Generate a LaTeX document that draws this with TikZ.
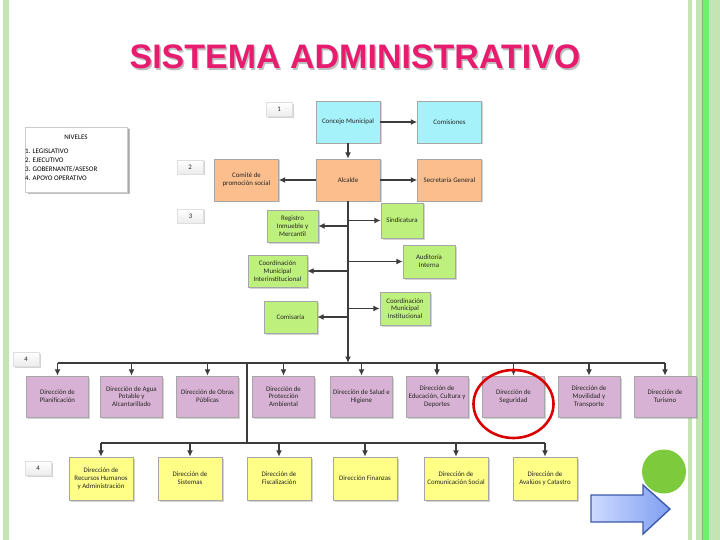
\documentclass[tikz,border=0pt]{standalone}
\usepackage{fontspec}
\setmainfont{Carlito}
\newfontfamily\titlefont{Liberation Sans}
\usepackage{xcolor}
\usetikzlibrary{arrows.meta, shadows}
\definecolor{cyanfill}{RGB}{166,242,250}
\definecolor{orangefill}{RGB}{251,190,140}
\definecolor{greenfill}{RGB}{190,240,125}
\definecolor{purplefill}{RGB}{216,178,212}
\definecolor{yellowfill}{RGB}{255,255,136}
\definecolor{framegreen}{RGB}{196,228,180}
\definecolor{titlepink}{RGB}{232,28,110}
\definecolor{linegray}{RGB}{60,60,60}
\definecolor{dotgreen}{RGB}{125,203,60}
\definecolor{navlight}{RGB}{205,218,255}
\definecolor{navblue}{RGB}{128,158,242}
\definecolor{navedge}{RGB}{60,90,170}
\begin{document}
\begin{tikzpicture}[x=1pt, y=-1pt,
        box/.style={rectangle, draw=gray!70, line width=0.4pt, inner sep=1pt, align=center,
            font=\fontsize{6.9}{7.8}\selectfont, text=black!85,
            drop shadow={shadow xshift=1.5pt, shadow yshift=-1.5pt, opacity=.35}},
        top/.style={box, fill=cyanfill, minimum width=64, minimum height=42},
        exe/.style={box, fill=orangefill, minimum width=64, minimum height=42},
        aux/.style={box, fill=greenfill, minimum width=52, minimum height=33},
        oper/.style={box, fill=purplefill, minimum width=62, minimum height=41},
        supp/.style={box, fill=yellowfill, minimum width=64, minimum height=43},
        lvl/.style={box, draw=gray!25, top color=white, bottom color=gray!15, minimum width=26, minimum height=14},
        arrow/.style={-{Latex[length=6.5pt, width=6pt]}, draw=linegray, line width=1.3pt},
        link/.style={draw=linegray, line width=1.3pt}
    ]
        \useasboundingbox (0,0) rectangle (720,540);
        % frame
        \fill[framegreen] (3,0) rectangle (9,540);
        \fill[framegreen] (688,0) rectangle (692,540);
        \fill[framegreen] (696,0) rectangle (720,540);
        \fill[green!40!framegreen] (703,0) rectangle (709,540);
        \draw[green!40!black!50, line width=0.8pt] (702,0) -- (702,540);

        % title
        \node[font=\titlefont\bfseries\fontsize{34}{36}\selectfont, text=gray!50] at (356.5,58.5) {SISTEMA ADMINISTRATIVO};
        \node[font=\titlefont\bfseries\fontsize{34}{36}\selectfont, text=titlepink] (title) at (355,57) {SISTEMA ADMINISTRATIVO};

        % levels legend
        \node[box, fill=white, minimum width=102, minimum height=65, draw=gray!40,
            drop shadow={shadow xshift=2.5pt, shadow yshift=-2.5pt, opacity=.5}] (niv) at (76,159.5) {};
        \node[font=\fontsize{7}{8}\selectfont] (nivt) at (76,137) {NIVELES};
        \node[font=\fontsize{7}{9}\selectfont, align=left, anchor=north west, inner sep=0pt] (nivl) at (25,149)
            {1. LEGISLATIVO\\2. EJECUTIVO\\3. GOBERNANTE/ASESOR\\4. APOYO OPERATIVO};

        % level marks
        \node[lvl] (l1) at (279,109.5) {1};
        \node[lvl] (l2) at (190,167) {2};
        \node[lvl] (l3) at (190.5,216) {3};
        \node[lvl] (l4) at (26,359) {4};
        \node[lvl] (l5) at (38,468.5) {4};

        % level 1 and 2
        \node[top] (cm) at (348,122) {Concejo Municipal};
        \node[top] (com) at (449.5,122) {Comisiones};
        \node[exe] (cps) at (246.5,180) {Comité de\\promoción social};
        \node[exe] (alc) at (348,180) {Alcalde};
        \node[exe] (sg) at (449.5,180) {Secretaría General};
        \draw[arrow] (cm) -- (com);
        \draw[arrow] (cm) -- (alc);
        \draw[arrow] (alc) -- (cps);
        \draw[arrow] (alc) -- (sg);

        % level 3
        \node[aux, minimum width=51, minimum height=32] (reg) at (292.5,226) {Registro\\Inmueble y\\Mercantil};
        \node[aux, minimum width=42, minimum height=35] (sin) at (402,220.5) {Sindicatura};
        \node[aux] (aud) at (429,261.5) {Auditoría\\Interna};
        \node[aux, minimum width=59, minimum height=32] (cmi) at (277.5,271) {Coordinación\\Municipal\\Interinstitucional};
        \node[aux, minimum width=53, minimum height=32] (cms) at (290.5,317) {Comisaría};
        \node[aux, minimum width=50] (cin) at (405,308.5) {Coordinación\\Municipal\\Institucional};
        \coordinate (bus) at (348,363);
        \draw[arrow] (alc) -- (bus);
        \foreach \n in {reg, cmi, cms} \draw[arrow] (alc.south |- \n.east) -- (\n.east);
        \foreach \n in {sin, aud, cin} \draw[arrow] (alc.south |- \n.west) -- (\n.west);

        % operative directions
        \foreach \x/\n/\t in {57.5/p1/{Dirección de\\Planificación},
                131.5/p2/{Dirección de Agua\\Potable y\\Alcantarillado},
                207.5/p3/{Dirección de Obras\\Públicas},
                283.5/p4/{Dirección de\\Protección\\Ambiental},
                361.5/p5/{Dirección de Salud e\\Higiene},
                437/p6/{Dirección de\\Educación, Cultura y\\Deportes},
                513.5/p7/{Dirección de\\Seguridad},
                589/p8/{Dirección de\\Movilidad y\\Transporte},
                665/p9/{Dirección de\\Turismo}}
            \node[oper] (\n) at (\x,396.5) {\t};
        \draw[link] (p1.north |- bus) -- (p9.north |- bus);
        \foreach \n in {p1,p2,p3,p4,p5,p6,p7,p8,p9}
            \draw[arrow] (\n.north |- bus) -- (\n.north);

        % support directions
        \coordinate (split) at (247,363);
        \coordinate (bus2) at (247,443);
        \draw[link] (split) -- (bus2);
        \foreach \x/\n/\t in {101/s1/{Dirección de\\Recursos Humanos\\y Administración},
                190/s2/{Dirección de\\Sistemas},
                279/s3/{Dirección de\\Fiscalización},
                365/s4/{Dirección Finanzas},
                456/s5/{Dirección de\\Comunicación Social},
                545/s6/{Dirección de\\Avalúos y Catastro}}
            \node[supp] (\n) at (\x,478.5) {\t};
        \draw[link] (s1.north |- bus2) -- (s6.north |- bus2);
        \foreach \n in {s1,s2,s3,s4,s5,s6}
            \draw[arrow] (\n.north |- bus2) -- (\n.north);

        % highlight
        \draw[red!85!black, line width=2.6pt] (p7.center) ++(0,7.5) ellipse [x radius=40, y radius=34];

        % navigation
        \fill[dotgreen] (664,471.5) circle (22);
        \shade[left color=navlight, right color=navblue, draw=navedge, line width=1.4pt]
            (591,495) -- (643,495) -- (643,485) -- (670,509) -- (643,534) -- (643,522) -- (591,522) -- cycle;
    \end{tikzpicture}
\end{document}
